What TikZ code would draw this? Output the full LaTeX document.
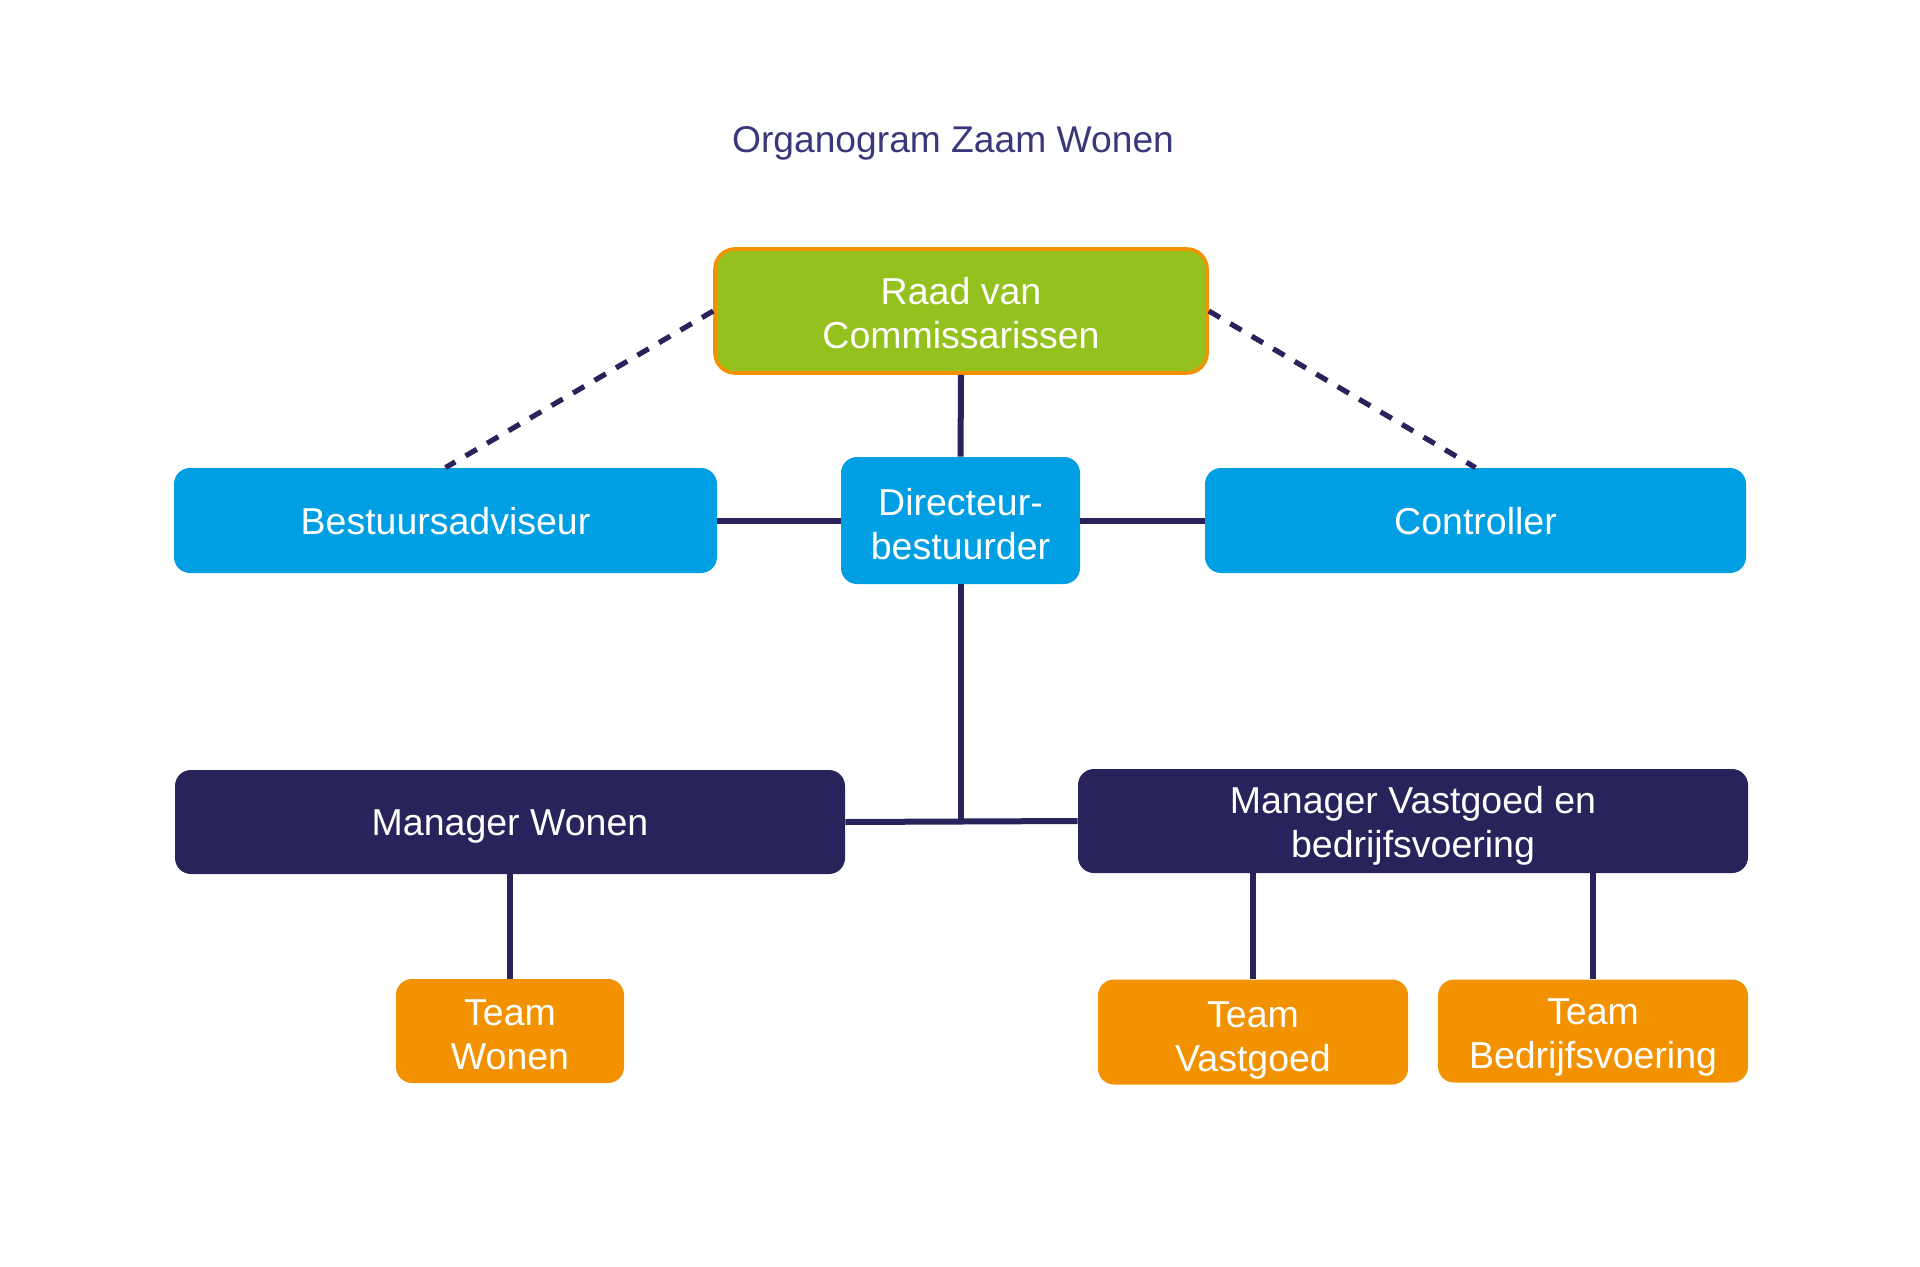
\documentclass[tikz,border=0pt]{standalone}
\usepackage{fontspec}
\setmainfont{Liberation Sans}
\definecolor{titlecol}{RGB}{58,56,122}
\definecolor{navy}{RGB}{41,35,92}
\definecolor{cyanbox}{RGB}{0,159,227}
\definecolor{greenbox}{RGB}{149,193,31}
\definecolor{orangebox}{RGB}{243,146,0}
\newcommand\mytopstrut[1]{\rule{0pt}{#1}}
\tikzset{
  box/.style={rectangle, rounded corners=8pt, text=white, align=center,
    font=\fontsize{18.75}{22}\selectfont, inner sep=0pt},
  oneline/.style={execute at begin node={\rule{0pt}{17.5pt}},
    execute at end node={\rule[-4pt]{0pt}{4pt}}},
  raadbox/.style={box, fill=greenbox, draw=orangebox, line width=1.8pt, rounded corners=10pt},
  bluebox/.style={box, fill=cyanbox},
  navybox/.style={box, fill=navy},
  teambox/.style={box, fill=orangebox},
  link/.style={draw=navy, line width=3pt},
  dashlink/.style={draw=navy, line width=2.6pt, dash pattern=on 6.5pt off 5.95pt},
}
\begin{document}
\begin{tikzpicture}[x=0.5pt, y=-0.5pt]
\useasboundingbox (0,0) rectangle (1920,1267);
\node[anchor=base, text=titlecol, font=\fontsize{18.6}{22}\selectfont] (title) at (953,153) {Organogram Zaam Wonen};

\node[raadbox, minimum width=246pt, minimum height=62pt] (raad) at (961,311) {\mytopstrut{16.1pt}Raad van\\Commissarissen};
\node[bluebox, oneline, minimum width=271.5pt, minimum height=52.5pt] (bestuur) at (445.5,520.5) {Bestuursadviseur};
\node[bluebox, minimum width=119.5pt, minimum height=63.5pt] (dir) at (960.5,520.5) {\mytopstrut{17.4pt}Directeur-\\bestuurder};
\node[bluebox, oneline, minimum width=270.5pt, minimum height=52.5pt] (ctrl) at (1475.5,520.5) {Controller};

\node[navybox, oneline, minimum width=335pt, minimum height=52pt] (mw) at (510,822) {Manager Wonen};
\node[navybox, minimum width=335pt, minimum height=52pt] (mv) at (1413,821) {\mytopstrut{18.6pt}Manager Vastgoed en\\bedrijfsvoering};

\node[teambox, minimum width=114pt, minimum height=52pt] (tw) at (510,1031) {\mytopstrut{16.7pt}Team\\Wonen};
\node[teambox, minimum width=155pt, minimum height=52.5pt] (tv) at (1253,1032) {\mytopstrut{21.7pt}Team\\Vastgoed};
\node[teambox, minimum width=155pt, minimum height=51.5pt] (tb) at (1593,1031) {\mytopstrut{19.2pt}Team\\Bedrijfsvoering};

\coordinate (j) at (dir.south |- mw.east);

\draw[link] (raad.south) -- (dir.north);
\draw[link] (bestuur.east) -- (dir.west);
\draw[link] (dir.east) -- (ctrl.west);
\draw[dashlink] (raad.west) -- (bestuur.north);
\draw[dashlink] (raad.east) -- (ctrl.north);
\draw[link] (dir.south) -- (j);
\draw[link] (mw.east) -- (mv.west);
\draw[link] (mw.south) -- (tw.north);
\draw[link] (tv.north |- mv.south) -- (tv.north);
\draw[link] (tb.north |- mv.south) -- (tb.north);
\end{tikzpicture}
\end{document}
